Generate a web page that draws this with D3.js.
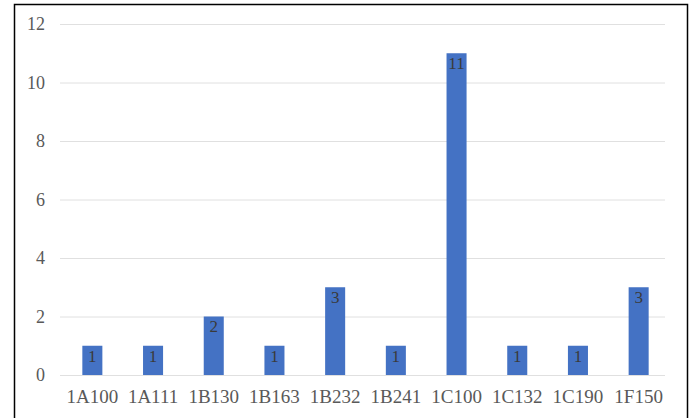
<!DOCTYPE html>
<html>
<head>
<meta charset="utf-8">
<script src="https://cdn.jsdelivr.net/npm/d3@7"></script>
<style>
  body { margin: 0; background: #fff; }
  text { font-family: "Liberation Serif", "Times New Roman", serif; }
</style>
</head>
<body>
<div id="chart"></div>
<script>
// chart data
var categories = ['1A100', '1A111', '1B130', '1B163', '1B232', '1B241', '1C100', '1C132', '1C190', '1F150'];
var counts     = [1, 1, 2, 1, 3, 1, 11, 1, 1, 3];
var yTicks     = [0, 2, 4, 6, 8, 10, 12];

var W = 692, H = 418;
var plot = { left: 62, right: 669, top: 24, bottom: 375 };

var svg = d3.select('#chart')
            .append('svg')
            .attr('width', W)
            .attr('height', H);

// outer frame
svg.append('rect')
    .attr('x', 14.5)
    .attr('y', 4.5)
    .attr('width', 673)
    .attr('height', 430)
    .attr('fill', '#fff')
    .attr('stroke', '#000')
    .attr('stroke-width', 1.5);

var x = d3.scaleBand()
          .domain(categories)
          .range([plot.left, plot.right])
          .paddingInner(0.67)
          .paddingOuter(0.335);

var y = d3.scaleLinear()
          .domain([0, 12])
          .range([plot.bottom, plot.top]);

// horizontal gridlines
svg.append('g')
    .selectAll('line')
    .data(yTicks)
    .enter()
    .append('line')
    .attr('x1', 60)
    .attr('x2', 665)
    .attr('y1', function(d) { return y(d) + 0.5; })
    .attr('y2', function(d) { return y(d) + 0.5; })
    .attr('stroke', '#e0e0e0')
    .attr('stroke-width', 1);

// y axis labels
var yAxis = d3.axisLeft(y).tickValues(yTicks).tickSize(0).tickPadding(0);
svg.append('g')
    .attr('transform', 'translate(45,0)')
    .call(yAxis)
    .call(function(g) { g.select('.domain').remove(); })
    .selectAll('text')
    .attr('font-family', '"Liberation Serif", serif')
    .attr('font-size', 18)
    .attr('fill', '#595959');

// bars
svg.append('g')
    .selectAll('rect')
    .data(counts)
    .enter()
    .append('rect')
    .attr('x', function(d, i) { return x(categories[i]); })
    .attr('y', function(d) { return y(d); })
    .attr('width', x.bandwidth())
    .attr('height', function(d) { return y(0) - y(d); })
    .attr('fill', '#4472c4');

// value labels inside the bar tops
svg.append('g')
    .selectAll('text')
    .data(counts)
    .enter()
    .append('text')
    .attr('x', function(d, i) { return x(categories[i]) + x.bandwidth() / 2; })
    .attr('y', function(d) { return y(d) + 10; })
    .attr('dy', '0.35em')
    .attr('text-anchor', 'middle')
    .attr('font-size', 17)
    .attr('fill', '#3a3a3a')
    .text(function(d) { return d; });

// x axis labels
var xAxis = d3.axisBottom(x).tickSize(0).tickPadding(0);
svg.append('g')
    .attr('transform', 'translate(0,389)')
    .call(xAxis)
    .call(function(g) { g.select('.domain').remove(); })
    .selectAll('text')
    .attr('font-family', '"Liberation Serif", serif')
    .attr('font-size', 19)
    .attr('fill', '#595959');
</script>
</body>
</html>
